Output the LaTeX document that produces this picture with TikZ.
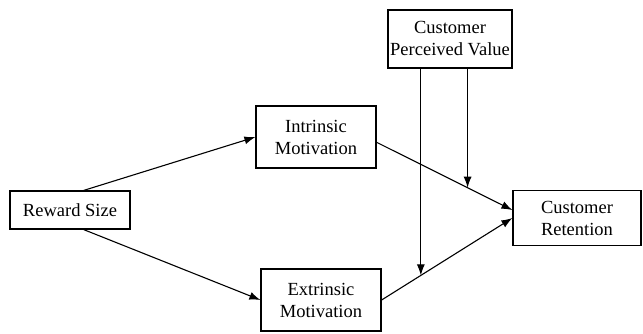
\documentclass[tikz,border=0pt]{standalone}
\usepackage{fontspec}
\setmainfont{Liberation Serif}
\usepackage{tikz}
\usetikzlibrary{arrows.meta}
\usetikzlibrary{calc}
\tikzset{
    box nodes/.style={
        draw,
        line width=1.2pt,
        align=center,
        inner sep=0pt,
        font=\fontsize{18.5}{22}\selectfont
    },
    flow/.style={
        line width=1.1pt,
        -{Latex[length=11pt,width=8pt]}
    }
}
\begin{document}
\begin{tikzpicture}[x=1pt,y=-1pt]
          \useasboundingbox (0,0) rectangle (643,333);
          \node[box nodes,minimum width=120pt,minimum height=38pt] (rs) at (70,210) {Reward Size};
          \node[box nodes,minimum width=120pt,minimum height=62pt] (im) at (316,137) {Intrinsic\\Motivation};
          \node[box nodes,minimum width=120pt,minimum height=62pt] (em) at (321,300) {Extrinsic\\Motivation};
          \node[box nodes,minimum width=124pt,minimum height=58pt] (cpv) at (450,39) {Customer\\Perceived Value};
          \node[box nodes,minimum width=128pt,minimum height=55pt] (cr) at (577,218) {Customer\\Retention};
          \draw[flow] (rs.55) -- (im.west);
          \draw[flow] (rs.-55) -- (em.west);
          \draw[flow] (im.-5) -- coordinate[pos=0.67] (mi) (cr.173);
          \draw[flow] (em.east) -- coordinate[pos=0.3] (me) (cr.west);
          % moderating paths
          \draw[flow] (mi |- cpv.south) -- (mi);
          \draw[flow] (me |- cpv.south) -- (me);
        \end{tikzpicture}
\end{document}
